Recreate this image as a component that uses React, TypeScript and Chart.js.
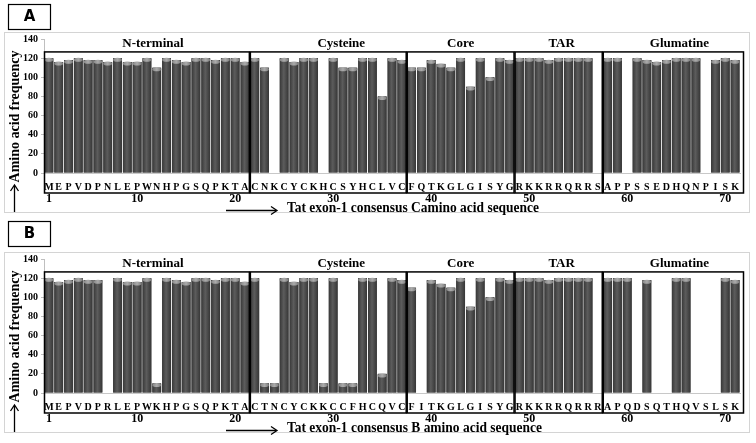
import React, { useEffect, useRef } from "react";
import { Chart, registerables } from "chart.js";
Chart.register(...registerables);

// ---------- data ----------
const lettersA = [
  "M","E","P","V","D","P","N","L","E","P","W","N","H","P","G","S","Q","P","K","T","A",
  "C","N","K","C","Y","C","K","H","C","S","Y","H","C","L","V","C",
  "F","Q","T","K","G","L","G","I","S","Y","G",
  "R","K","K","R","R","Q","R","R","S",
  "A","P","P","S","S","E","D","H","Q","N","P","I","S","K",
];
const valuesA = [
  120,116,118,120,118,118,116,120,116,116,120,110,120,118,116,120,120,118,120,120,116,
  120,110,0,120,116,120,120,0,120,110,110,120,120,80,120,118,
  110,110,118,114,110,120,90,120,100,120,118,
  120,120,120,118,120,120,120,120,0,
  120,120,0,120,118,116,118,120,120,120,0,118,120,118,
];
const lettersB = [
  "M","E","P","V","D","P","R","L","E","P","W","K","H","P","G","S","Q","P","K","T","A",
  "C","T","N","C","Y","C","K","K","C","C","F","H","C","Q","V","C",
  "F","I","T","K","G","L","G","I","S","Y","G",
  "R","K","K","R","R","Q","R","R","R",
  "A","P","Q","D","S","Q","T","H","Q","V","S","L","S","K",
];
const valuesB = [
  120,116,118,120,118,118,0,120,116,116,120,10,120,118,116,120,120,118,120,120,116,
  120,10,10,120,116,120,120,10,120,10,10,120,120,20,120,118,
  110,0,118,114,110,120,90,120,100,120,118,
  120,120,120,118,120,120,120,120,0,
  120,120,120,0,118,0,0,120,120,0,0,0,120,118,
];
const tickNumbers = [1, 10, 20, 30, 40, 50, 60, 70];
const regionNames = ["N-terminal", "Cysteine", "Core", "TAR", "Glumatine"];
const regionStarts = [1, 22, 38, 49, 58];
const regionEnds = [21, 37, 48, 57, 71];
const yTitle = "Amino acid frequency";
const xTitleA = "Tat exon-1 consensus Camino acid sequence";
const xTitleB = "Tat exon-1 consensus B amino acid sequence";

const SERIF = "'Liberation Serif', 'Times New Roman', serif";

function makeDecor(panel: string, xTitle: string, boxTop: number, titleWidth: number) {
  return {
    id: "decor" + panel,
    beforeDraw(chart: any) {
      const ctx = chart.ctx;
      ctx.save();
      ctx.fillStyle = "#fff";
      ctx.fillRect(0, 0, chart.width, chart.height);
      ctx.strokeStyle = "#d4d4d4";
      ctx.lineWidth = 1;
      ctx.strokeRect(4.5, 32.5, 745, 180);
      ctx.strokeStyle = "#000";
      ctx.lineWidth = 1.2;
      ctx.strokeRect(8.5, boxTop + 0.5, 42, 25);
      ctx.fillStyle = "#000";
      ctx.font = "bold 15px 'DejaVu Sans', 'Liberation Sans', sans-serif";
      ctx.textAlign = "center";
      ctx.textBaseline = "middle";
      ctx.fillText(panel, 29.5, boxTop + 13.5);
      ctx.restore();
    },
    afterDatasetsDraw(chart: any) {
      const ctx = chart.ctx;
      const meta = chart.getDatasetMeta(0);
      ctx.save();
      meta.data.forEach((el: any, i: number) => {
        const v = chart.data.datasets[0].data[i];
        if (!v) return;
        const p = el.getProps(["x", "y", "base", "width"], true);
        const w = p.width;
        const left = p.x - w / 2;
        const g = ctx.createLinearGradient(left, 0, left + w, 0);
        g.addColorStop(0, "#383838");
        g.addColorStop(0.45, "#5c5c5c");
        g.addColorStop(1, "#363636");
        ctx.fillStyle = g;
        ctx.fillRect(left, p.y, w, p.base - p.y);
        const cg = ctx.createLinearGradient(left, 0, left + w, 0);
        cg.addColorStop(0, "#858585");
        cg.addColorStop(0.5, "#ababab");
        cg.addColorStop(1, "#7c7c7c");
        ctx.fillStyle = cg;
        ctx.beginPath();
        ctx.ellipse(p.x, p.y + 1.6, w / 2, 2, 0, 0, Math.PI * 2);
        ctx.fill();
      });
      ctx.restore();
    },
    afterDraw(chart: any) {
      const ctx = chart.ctx;
      const xs = chart.scales.x;
      const ys = chart.scales.y;
      const n = chart.data.labels.length;
      const cw = (xs.right - xs.left) / n;
      const top = ys.getPixelForValue(126.5);
      const bottom = chart.chartArea.bottom + 20;
      const titleOffsets = [6, 13, 0, 3, 6];
      ctx.save();
      ctx.strokeStyle = "#000";
      ctx.lineWidth = 1.5;
      ctx.fillStyle = "#000";
      ctx.font = "bold 13px " + SERIF;
      ctx.textAlign = "center";
      ctx.textBaseline = "middle";
      regionNames.forEach((name, i) => {
        const l = xs.left + (regionStarts[i] - 1) * cw + 0.5;
        let r = xs.left + regionEnds[i] * cw - 0.5;
        if (i === regionNames.length - 1) r += 4;
        ctx.strokeRect(l, top, r - l, bottom - top);
        ctx.fillText(name, (l + r) / 2 + titleOffsets[i], 43.5);
      });
      // y title
      ctx.save();
      ctx.translate(15, 116.5);
      ctx.rotate(-Math.PI / 2);
      ctx.font = "bold 14px " + SERIF;
      ctx.fillText(yTitle, 0, 0);
      ctx.restore();
      // y arrow
      ctx.lineWidth = 1.3;
      ctx.beginPath();
      ctx.moveTo(14.5, 212);
      ctx.lineTo(14.5, 186);
      ctx.stroke();
      ctx.beginPath();
      ctx.moveTo(10.5, 191);
      ctx.lineTo(14.5, 185);
      ctx.lineTo(18.5, 191);
      ctx.stroke();
      // x title (slightly condensed, as in the original)
      ctx.save();
      ctx.font = "bold 15px " + SERIF;
      ctx.textAlign = "left";
      const mw = ctx.measureText(xTitle).width;
      ctx.translate(287, 208.5);
      ctx.scale(Math.min(1, titleWidth / mw), 1);
      ctx.fillText(xTitle, 0, 0);
      ctx.restore();
      // x arrow
      ctx.beginPath();
      ctx.moveTo(226, 210.5);
      ctx.lineTo(276, 210.5);
      ctx.stroke();
      ctx.beginPath();
      ctx.moveTo(271, 206.5);
      ctx.lineTo(277, 210.5);
      ctx.lineTo(271, 214.5);
      ctx.stroke();
      ctx.restore();
    },
  };
}

function Panel(props: { panel: string; letters: string[]; values: number[]; xTitle: string; boxTop: number; top: number; titleWidth: number }) {
  const ref = useRef<HTMLCanvasElement | null>(null);
  useEffect(() => {
    if (!ref.current) return;
    const tickFont = { family: SERIF, weight: "bold" as const, size: 10 };
    const chart = new Chart(ref.current, {
      type: "bar",
      data: {
        labels: props.letters,
        datasets: [
          {
            data: props.values,
            backgroundColor: "#4a4a4a",
            categoryPercentage: 0.9,
            barPercentage: 1,
            xAxisID: "x",
            yAxisID: "y",
          },
        ],
      },
      options: {
        responsive: false,
        animation: false,
        devicePixelRatio: 1,
        layout: { padding: { top: 39, right: 16, left: 0, bottom: 0 } },
        plugins: { legend: { display: false }, tooltip: { enabled: false } },
        scales: {
          x: {
            type: "category",
            position: "bottom",
            offset: true,
            grid: { display: false, drawTicks: false },
            border: { display: true, color: "#c8c8c8" },
            ticks: { autoSkip: false, maxRotation: 0, minRotation: 0, padding: 8, color: "#000", font: tickFont },
            afterFit: (s: any) => { s.height = 19; },
          },
          x2: {
            type: "category",
            position: "bottom",
            offset: true,
            grid: { display: false, drawTicks: false },
            border: { display: false },
            ticks: {
              autoSkip: false,
              maxRotation: 0,
              minRotation: 0,
              padding: -0.5,
              color: "#000",
              font: { family: SERIF, weight: "bold", size: 12 },
              callback: (_v: any, i: number) => (tickNumbers.includes(i + 1) ? String(i + 1) : ""),
            },
            afterFit: (s: any) => { s.height = 28; },
          },
          y: {
            min: 0,
            max: 140,
            ticks: { stepSize: 20, padding: 3, color: "#000", font: tickFont },
            grid: { display: true, drawOnChartArea: false, drawTicks: true, tickLength: 3, color: "#bfbfbf" },
            border: { display: true, color: "#bfbfbf" },
            afterFit: (s: any) => { s.width = 44; },
          },
        },
      } as any,
      plugins: [makeDecor(props.panel, props.xTitle, props.boxTop, props.titleWidth)],
    });
    return () => chart.destroy();
  }, []);
  return (
    <canvas
      ref={ref}
      width={756}
      height={220}
      style={{ position: "absolute", left: 0, top: props.top, width: 756, height: 220 }}
    />
  );
}

export default function App() {
  return (
    <div style={{ position: "absolute", left: 0, top: 0, width: 756, height: 443, background: "#fff" }}>
      <Panel panel="A" letters={lettersA} values={valuesA} xTitle={xTitleA} boxTop={4} top={0} titleWidth={252} />
      <Panel panel="B" letters={lettersB} values={valuesB} xTitle={xTitleB} boxTop={1} top={220} titleWidth={255} />
    </div>
  );
}
